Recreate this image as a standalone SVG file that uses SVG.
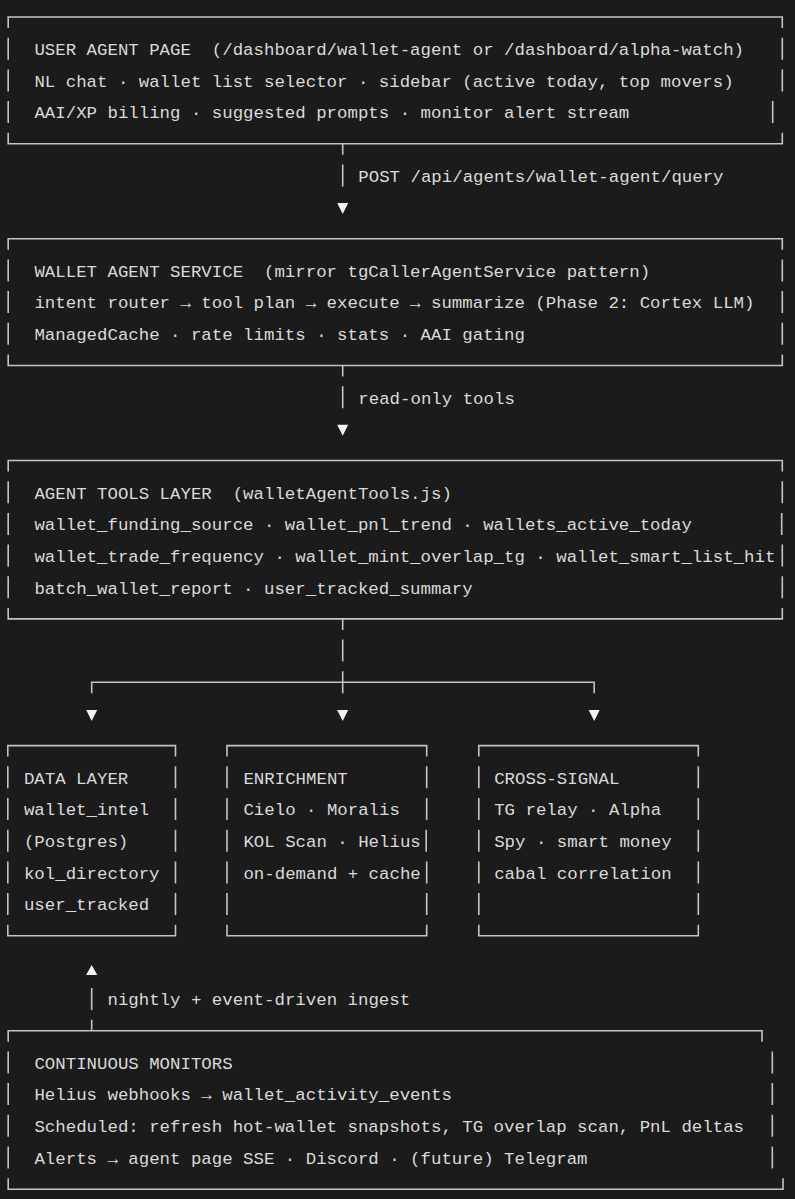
<svg xmlns="http://www.w3.org/2000/svg" width="795" height="1199" viewBox="0 0 795 1199" xml:space="preserve">
<style>
  text { font-family: "Liberation Mono", "DejaVu Sans Mono", monospace; font-size: 17.4px; fill: #dadada; white-space: pre; }
  .frame { fill: none; stroke: #c4c4c4; stroke-width: 1.6; }
  .conn { fill: none; stroke: #c4c4c4; stroke-width: 1.6; }
  .head { fill: #f2f2f2; }
</style>
<defs>
  <path id="tri-down" d="M-5.5,-4 L5.5,-4 L0,7 Z"/>
  <path id="tri-up" d="M-5.6,7.5 L5.6,7.5 L0,-2.5 Z"/>
</defs>
<rect x="0" y="0" width="795" height="1199" fill="#1b1b1b"/>

<g id="user-agent-page">
  <path class="frame" d="M8.2,28 V17 H782.3 V28
    M8.2,37.7 V59.7 M8.2,69.4 V91.4 M8.2,101 V123
    M782.3,37.7 V59.7 M782.3,69.4 V91.4 M772.7,101 V123
    M8.2,132.7 V143.7 H782.3 V132.7"/>
  <text x="34.4" y="55">USER AGENT PAGE  (/dashboard/wallet-agent or /dashboard/alpha-watch)</text>
  <text x="34.4" y="86.7">NL chat · wallet list selector · sidebar (active today, top movers)</text>
  <text x="34.4" y="118.3">AAI/XP billing · suggested prompts · monitor alert stream</text>
</g>

<g id="wallet-agent-service">
  <path class="frame" d="M8.2,249.8 V238.8 H782.3 V249.8
    M8.2,259.4 V281.4 M8.2,291.1 V313.1 M8.2,322.8 V344.8
    M782.3,259.4 V281.4 M782.3,291.1 V313.1 M782.3,322.8 V344.8
    M8.2,354.5 V365.5 H782.3 V354.5"/>
  <text x="34.4" y="276.7">WALLET AGENT SERVICE  (mirror tgCallerAgentService pattern)</text>
  <text x="34.4" y="308.4">intent router → tool plan → execute → summarize (Phase 2: Cortex LLM)</text>
  <text x="34.4" y="340.1">ManagedCache · rate limits · stats · AAI gating</text>
</g>

<g id="agent-tools-layer">
  <path class="frame" d="M8.2,471.5 V460.5 H782.3 V471.5
    M8.2,481.2 V503.2 M8.2,512.9 V534.9 M8.2,544.6 V566.6 M8.2,576.2 V598.2
    M782.3,481.2 V503.2 M781.7,512.9 V534.9 M782.3,544.6 V566.6 M782.3,576.2 V598.2
    M8.2,607.9 V618.9 H782.3 V607.9"/>
  <text x="34.4" y="498.5">AGENT TOOLS LAYER  (walletAgentTools.js)</text>
  <text x="34.4" y="530.2">wallet_funding_source · wallet_pnl_trend · wallets_active_today</text>
  <text x="34.4" y="561.9">wallet_trade_frequency · wallet_mint_overlap_tg · wallet_smart_list_hit</text>
  <text x="34.4" y="593.5">batch_wallet_report · user_tracked_summary</text>
</g>

<g id="data-layer">
  <path class="frame" d="M7.8,756.6 V745.6 H175.5 V756.6
    M7.8,766.3 V788.3 M7.8,798 V820 M7.8,829.7 V851.7 M7.8,861.4 V883.4 M7.8,893 V915
    M175.5,766.3 V788.3 M175.5,798 V820 M175.5,829.7 V851.7 M175.5,861.4 V883.4 M175.5,893 V915
    M7.8,924.7 V935.7 H175.5 V924.7"/>
  <text x="23.9" y="783.6">DATA LAYER</text>
  <text x="23.9" y="815.3">wallet_intel</text>
  <text x="23.9" y="847">(Postgres)</text>
  <text x="23.9" y="878.7">kol_directory</text>
  <text x="23.9" y="910.3">user_tracked</text>
</g>

<g id="enrichment">
  <path class="frame" d="M227,756.6 V745.6 H426.7 V756.6
    M227,766.3 V788.3 M227,798 V820 M227,829.7 V851.7 M227,861.4 V883.4 M227,893 V915
    M426.7,766.3 V788.3 M426.7,798 V820 M426.2,829.7 V851.7 M426.7,861.4 V883.4 M426.7,893 V915
    M227,924.7 V935.7 H426.7 V924.7"/>
  <text x="243.4" y="783.6">ENRICHMENT</text>
  <text x="243.4" y="815.3">Cielo · Moralis</text>
  <text x="243.4" y="847">KOL Scan · Helius</text>
  <text x="243.4" y="878.7">on-demand + cache</text>
</g>

<g id="cross-signal">
  <path class="frame" d="M478.8,756.6 V745.6 H698.3 V756.6
    M478.8,766.3 V788.3 M478.8,798 V820 M478.8,829.7 V851.7 M478.8,861.4 V883.4 M478.8,893 V915
    M698.3,766.3 V788.3 M698.3,798 V820 M698.3,829.7 V851.7 M698.3,861.4 V883.4 M698.3,893 V915
    M478.8,924.7 V935.7 H698.3 V924.7"/>
  <text x="494.2" y="783.6">CROSS-SIGNAL</text>
  <text x="494.2" y="815.3">TG relay · Alpha</text>
  <text x="494.2" y="847">Spy · smart money</text>
  <text x="494.2" y="878.7">cabal correlation</text>
</g>

<g id="continuous-monitors">
  <path class="frame" d="M8.2,1041.8 V1030.8 H762 V1041.8
    M8.2,1051.4 V1073.4 M8.2,1083.1 V1105.1 M8.2,1114.8 V1136.8 M8.2,1146.5 V1168.5
    M772.3,1051.4 V1073.4 M772.3,1083.1 V1105.1 M772.3,1114.8 V1136.8 M772.3,1146.5 V1168.5
    M8.2,1178.2 V1189.2 H783 V1178.2"/>
  <text x="34.4" y="1068.7">CONTINUOUS MONITORS</text>
  <text x="34.4" y="1100.4">Helius webhooks → wallet_activity_events</text>
  <text x="34.4" y="1132.1">Scheduled: refresh hot-wallet snapshots, TG overlap scan, PnL deltas</text>
  <text x="34.4" y="1163.8">Alerts → agent page SSE · Discord · (future) Telegram</text>
</g>

<g id="connectors">
  <!-- page -> service -->
  <path class="conn" d="M342.7,143.7 V154.7 M342.7,164.4 V186.4"/>
  <use href="#tri-down" class="head" x="342.7" y="207.1"/>
  <text x="358.3" y="181.7">POST /api/agents/wallet-agent/query</text>
  <!-- service -> tools -->
  <path class="conn" d="M342.7,365.5 V376.5 M342.7,386.2 V408.2"/>
  <use href="#tri-down" class="head" x="342.7" y="428.8"/>
  <text x="358.3" y="403.5">read-only tools</text>
  <!-- tools -> three branches -->
  <path class="conn" d="M342.7,618.9 V629.9 M342.7,639.6 V661.6 M342.7,671.3 V693.3
    M91.7,693.3 V682.3 H594.2 V693.3"/>
  <use href="#tri-down" class="head" x="91.7" y="714"/>
  <use href="#tri-down" class="head" x="342.7" y="714"/>
  <use href="#tri-down" class="head" x="594.2" y="714"/>
  <!-- monitors -> data layer -->
  <path class="conn" d="M91.7,1030.8 V1019.8 M91.7,988 V1010"/>
  <use href="#tri-up" class="head" x="91.7" y="967.4"/>
  <text x="107.5" y="1005.4">nightly + event-driven ingest</text>
</g>
</svg>
